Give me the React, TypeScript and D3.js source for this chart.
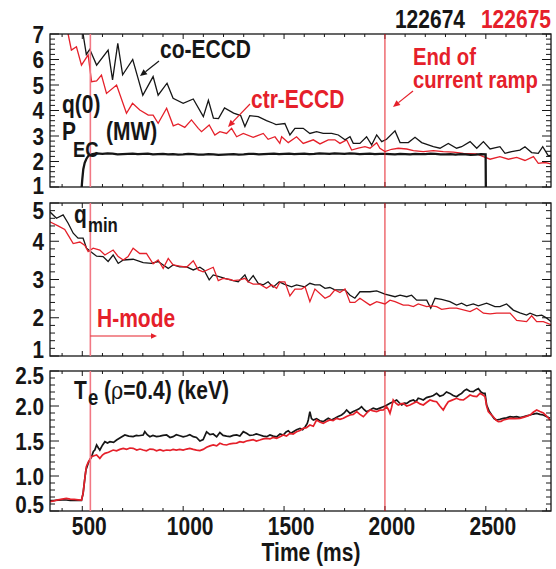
import React from 'react';
import * as d3 from 'd3';

const W = 556;
const H = 569;

// time axis (ms)
const xDomain = [340, 2823];
const xTicks = [500, 1000, 1500, 2000, 2500];
const q0Ticks = [1, 2, 3, 4, 5, 6, 7];
const qminTicks = [1, 2, 3, 4, 5];
const teTicks = [0.5, 1.0, 1.5, 2.0, 2.5];
const shots = ['122674', '122675'];
const hModeTime = 540;
const rampEndTime = 2000;

// q(0), shot 122674 (co-ECCD)
const q0Co: [number, number][] = [
  [480, 8.2], [505, 6.95], [520, 6.2], [537, 6.4], [571, 5.78], [628, 6.37], [650, 5.2], [676, 6.63],
  [700, 5.4], [750, 6.0], [775, 5.3], [800, 4.6], [851, 5.33], [876, 4.6], [920, 5.07], [950, 4.48],
  [1000, 4.28], [1050, 4.45], [1100, 3.76], [1125, 4.4], [1150, 3.7], [1175, 3.68], [1205, 4.1],
  [1250, 3.9], [1285, 3.8], [1306, 3.37], [1330, 3.8], [1372, 3.76], [1413, 3.6], [1446, 3.5],
  [1460, 3.45], [1504, 3.49], [1529, 3.04], [1554, 3.3], [1595, 3.3], [1628, 3.1], [1661, 3.17],
  [1694, 3.1], [1736, 3.1], [1769, 3.04], [1802, 2.85], [1827, 2.97], [1843, 2.71], [1876, 2.71],
  [1909, 2.97], [1934, 2.65], [1959, 3.04], [1984, 2.78], [2008, 2.87], [2050, 3.2], [2075, 2.74],
  [2116, 2.74], [2149, 2.95], [2182, 2.74], [2240, 2.58], [2273, 2.52], [2314, 2.71], [2355, 2.52],
  [2380, 2.58], [2422, 2.78], [2455, 2.52], [2488, 2.78], [2521, 2.49], [2570, 2.58], [2595, 2.32],
  [2628, 2.39], [2669, 2.45], [2694, 2.58], [2727, 2.35], [2760, 2.32], [2782, 2.58], [2810, 2.22],
  [2825, 2.25],
];

// q(0), shot 122675 (ctr-ECCD)
const q0Ctr: [number, number][] = [
  [410, 7.6], [430, 6.99], [446, 6.37], [471, 6.5], [496, 5.78], [529, 6.18], [546, 5.13], [571, 5.16],
  [595, 5.39], [620, 4.67], [670, 5.0], [719, 3.89], [749, 4.28], [785, 4.02], [827, 3.82], [851, 3.82],
  [876, 3.5], [918, 4.09], [951, 3.4], [975, 3.47], [1008, 3.34], [1041, 3.63], [1075, 3.3], [1091, 3.17],
  [1129, 3.43], [1157, 3.04], [1182, 3.17], [1215, 3.1], [1240, 3.3], [1265, 2.97], [1298, 3.1],
  [1347, 2.95], [1397, 3.1], [1421, 2.87], [1455, 2.97], [1479, 2.71], [1488, 2.97], [1521, 2.74],
  [1562, 2.97], [1595, 2.71], [1645, 2.85], [1678, 2.69], [1719, 2.85], [1752, 2.85], [1777, 2.71],
  [1810, 2.85], [1835, 2.45], [1868, 2.52], [1901, 2.58], [1926, 2.52], [1959, 2.74], [1975, 2.52],
  [2000, 2.39], [2033, 2.48], [2066, 2.52], [2108, 2.49], [2141, 2.43], [2190, 2.39], [2240, 2.43],
  [2289, 2.39], [2339, 2.37], [2389, 2.32], [2455, 2.3], [2488, 2.19], [2521, 2.09], [2570, 2.19],
  [2612, 2.09], [2653, 2.16], [2694, 2.04], [2736, 2.19], [2760, 1.93], [2793, 1.96], [2823, 1.91],
];

// EC power (MW), shot 122674
const pec: [number, number][] = [
  [497, 1.0], [500, 1.3], [505, 1.7], [512, 1.95], [520, 2.1], [530, 2.22], [545, 2.28], [570, 2.32],
  [600, 2.3], [625, 2.32], [650, 2.31], [675, 2.28], [700, 2.29], [725, 2.3], [750, 2.31], [775, 2.29],
  [800, 2.3], [825, 2.31], [850, 2.28], [875, 2.29], [900, 2.3], [925, 2.28], [950, 2.29], [975, 2.27],
  [1000, 2.28], [1025, 2.3], [1050, 2.29], [1075, 2.27], [1100, 2.27], [1125, 2.29], [1150, 2.28],
  [1175, 2.26], [1200, 2.27], [1225, 2.28], [1250, 2.29], [1275, 2.27], [1300, 2.28], [1325, 2.3],
  [1350, 2.3], [1375, 2.28], [1400, 2.29], [1425, 2.3], [1450, 2.31], [1475, 2.29], [1500, 2.3],
  [1525, 2.31], [1550, 2.29], [1575, 2.3], [1600, 2.31], [1625, 2.29], [1650, 2.3], [1675, 2.32],
  [1700, 2.31], [1725, 2.3], [1750, 2.32], [1775, 2.31], [1800, 2.3], [1825, 2.32], [1850, 2.31],
  [1875, 2.29], [1900, 2.3], [1925, 2.31], [1950, 2.29], [1975, 2.3], [2000, 2.3], [2025, 2.29],
  [2050, 2.28], [2075, 2.3], [2100, 2.29], [2125, 2.28], [2150, 2.3], [2175, 2.29], [2200, 2.29],
  [2225, 2.31], [2250, 2.3], [2275, 2.28], [2300, 2.28], [2325, 2.29], [2350, 2.27], [2375, 2.29],
  [2400, 2.28], [2425, 2.26], [2450, 2.27], [2475, 2.29], [2499, 2.28], [2500, 1.0],
];

// q_min
const qminCo: [number, number][] = [
  [339, 4.77], [372, 4.6], [405, 4.69], [430, 4.47], [455, 4.21], [479, 4.08], [504, 4.08], [521, 3.82],
  [541, 3.73], [571, 3.61], [603, 3.6], [628, 3.47], [653, 3.64], [678, 3.42], [703, 3.51], [752, 3.53],
  [802, 3.44], [843, 3.42], [876, 3.47], [901, 3.38], [926, 3.29], [950, 3.38], [983, 3.33], [1017, 3.33],
  [1050, 3.25], [1083, 3.32], [1103, 3.25], [1129, 2.99], [1149, 3.12], [1182, 3.07], [1207, 3.03],
  [1248, 2.97], [1273, 2.94], [1306, 3.12], [1322, 2.94], [1347, 3.1], [1372, 2.9], [1397, 2.86],
  [1421, 2.94], [1446, 2.8], [1476, 2.94], [1500, 2.88], [1537, 2.81], [1562, 2.86], [1603, 2.81],
  [1628, 2.9], [1653, 2.86], [1678, 2.86], [1703, 2.77], [1727, 2.79], [1752, 2.73], [1802, 2.73],
  [1827, 2.59], [1851, 2.51], [1876, 2.68], [1926, 2.68], [1959, 2.7], [2000, 2.62], [2050, 2.55],
  [2075, 2.59], [2108, 2.55], [2132, 2.59], [2157, 2.46], [2207, 2.46], [2227, 2.25], [2248, 2.51],
  [2281, 2.48], [2322, 2.42], [2355, 2.33], [2380, 2.38], [2405, 2.31], [2438, 2.36], [2463, 2.31],
  [2504, 2.38], [2545, 2.29], [2570, 2.29], [2603, 2.36], [2636, 2.2], [2669, 2.13], [2702, 2.07],
  [2719, 2.12], [2752, 2.05], [2777, 2.07], [2802, 1.99], [2823, 1.9],
];

const qminCtr: [number, number][] = [
  [339, 4.51], [380, 4.4], [413, 4.31], [430, 4.16], [455, 3.94], [488, 3.98], [513, 3.89], [529, 3.73],
  [554, 3.82], [587, 3.77], [612, 3.64], [653, 3.77], [678, 3.6], [703, 3.51], [727, 3.6], [752, 3.82],
  [785, 3.68], [818, 3.68], [851, 3.41], [876, 3.51], [901, 3.29], [926, 3.55], [950, 3.38], [983, 3.35],
  [1017, 3.32], [1050, 3.49], [1075, 3.25], [1099, 3.2], [1149, 3.32], [1174, 2.97], [1198, 3.03],
  [1232, 3.0], [1248, 2.97], [1281, 2.99], [1306, 3.03], [1322, 2.94], [1347, 2.88], [1380, 2.88],
  [1413, 2.77], [1438, 2.86], [1463, 2.77], [1480, 2.94], [1504, 2.94], [1529, 2.57], [1554, 2.75],
  [1587, 2.75], [1604, 2.81], [1628, 2.42], [1653, 2.75], [1703, 2.51], [1727, 2.57], [1752, 2.73],
  [1777, 2.66], [1802, 2.75], [1827, 2.4], [1851, 2.4], [1876, 2.51], [1926, 2.33], [1959, 2.42],
  [2000, 2.36], [2025, 2.46], [2050, 2.42], [2091, 2.33], [2116, 2.33], [2141, 2.29], [2165, 2.36],
  [2207, 2.29], [2232, 2.31], [2256, 2.29], [2281, 2.22], [2322, 2.25], [2355, 2.25], [2422, 2.16],
  [2455, 2.25], [2488, 2.12], [2521, 2.1], [2554, 2.12], [2620, 2.12], [2653, 1.93], [2702, 1.9],
  [2727, 2.05], [2752, 1.9], [2785, 1.9], [2823, 1.82],
];

// Te(rho=0.4) keV
const teCo: [number, number][] = [
  [339, 0.647], [360, 0.65], [380, 0.655], [400, 0.66], [421, 0.657], [440, 0.65], [460, 0.655],
  [480, 0.65], [496, 0.652], [504, 0.75], [512, 0.95], [518, 1.086], [529, 1.18], [546, 1.276],
  [555, 1.35], [562, 1.371], [571, 1.443], [580, 1.4], [587, 1.371], [600, 1.44], [612, 1.49],
  [625, 1.47], [637, 1.49], [655, 1.48], [670, 1.514], [690, 1.55], [711, 1.586], [730, 1.57],
  [752, 1.562], [768, 1.58], [780, 1.575], [802, 1.586], [810, 1.633], [822, 1.59], [835, 1.562],
  [850, 1.58], [868, 1.562], [884, 1.57], [900, 1.58], [918, 1.586], [935, 1.55], [950, 1.562],
  [966, 1.59], [983, 1.575], [1000, 1.56], [1017, 1.571], [1033, 1.59], [1050, 1.562], [1066, 1.55],
  [1083, 1.5], [1099, 1.52], [1116, 1.63], [1133, 1.59], [1149, 1.6], [1166, 1.56], [1182, 1.62],
  [1198, 1.58], [1215, 1.57], [1232, 1.562], [1248, 1.58], [1265, 1.586], [1281, 1.57], [1298, 1.633],
  [1314, 1.61], [1330, 1.58], [1347, 1.586], [1363, 1.6], [1380, 1.586], [1397, 1.57], [1414, 1.562],
  [1430, 1.586], [1446, 1.57], [1463, 1.56], [1480, 1.6], [1496, 1.586], [1510, 1.63], [1521, 1.647],
  [1534, 1.61], [1546, 1.633], [1562, 1.66], [1579, 1.68], [1592, 1.66], [1604, 1.7], [1615, 1.75],
  [1620, 1.8], [1628, 1.92], [1636, 1.82], [1645, 1.8], [1661, 1.82], [1677, 1.79], [1694, 1.776],
  [1706, 1.8], [1719, 1.824], [1735, 1.8], [1752, 1.824], [1768, 1.85], [1785, 1.871], [1798, 1.9],
  [1810, 1.943], [1827, 1.895], [1843, 1.92], [1860, 1.943], [1872, 1.96], [1884, 1.99], [1896, 1.95],
  [1909, 1.919], [1926, 1.943], [1942, 1.97], [1959, 1.952], [1975, 1.97], [1992, 1.99], [2008, 2.01],
  [2025, 2.038], [2041, 2.06], [2058, 2.086], [2070, 2.05], [2083, 2.014], [2096, 2.04], [2108, 2.038],
  [2124, 2.07], [2141, 2.086], [2153, 2.06], [2165, 2.11], [2178, 2.1], [2190, 2.086], [2206, 2.12],
  [2223, 2.133], [2240, 2.15], [2256, 2.18], [2272, 2.14], [2289, 2.157], [2305, 2.2], [2322, 2.18],
  [2338, 2.15], [2355, 2.133], [2368, 2.16], [2380, 2.18], [2393, 2.22], [2405, 2.24], [2420, 2.21],
  [2438, 2.205], [2450, 2.23], [2463, 2.25], [2476, 2.2], [2488, 2.18], [2496, 2.18], [2504, 2.014],
  [2516, 1.93], [2529, 1.871], [2541, 1.82], [2554, 1.8], [2570, 1.81], [2587, 1.824], [2603, 1.83],
  [2620, 1.847], [2636, 1.84], [2653, 1.847], [2670, 1.835], [2686, 1.847], [2702, 1.86], [2719, 1.871],
  [2735, 1.885], [2752, 1.895], [2768, 1.88], [2785, 1.871], [2800, 1.85], [2818, 1.824],
];

const teCtr: [number, number][] = [
  [339, 0.633], [360, 0.645], [380, 0.66], [400, 0.67], [421, 0.681], [440, 0.67], [460, 0.665],
  [480, 0.66], [496, 0.657], [504, 0.752], [512, 0.95], [520, 1.133], [530, 1.2], [546, 1.276],
  [558, 1.29], [571, 1.3], [587, 1.252], [600, 1.3], [612, 1.324], [630, 1.34], [653, 1.371],
  [670, 1.36], [686, 1.38], [703, 1.395], [720, 1.38], [736, 1.4], [752, 1.395], [770, 1.37],
  [786, 1.385], [802, 1.371], [818, 1.36], [835, 1.385], [851, 1.381], [868, 1.36], [885, 1.375],
  [901, 1.36], [918, 1.371], [935, 1.365], [950, 1.38], [966, 1.37], [983, 1.381], [1000, 1.37],
  [1017, 1.385], [1033, 1.395], [1050, 1.38], [1066, 1.37], [1083, 1.362], [1099, 1.38], [1116, 1.41],
  [1133, 1.43], [1149, 1.443], [1166, 1.43], [1182, 1.467], [1198, 1.45], [1215, 1.443], [1232, 1.46],
  [1248, 1.467], [1265, 1.47], [1281, 1.49], [1298, 1.48], [1314, 1.5], [1330, 1.51], [1347, 1.52],
  [1363, 1.5], [1380, 1.514], [1397, 1.53], [1414, 1.538], [1430, 1.53], [1446, 1.552], [1463, 1.538],
  [1480, 1.56], [1496, 1.586], [1512, 1.57], [1529, 1.61], [1545, 1.6], [1562, 1.633], [1579, 1.65],
  [1595, 1.68], [1611, 1.69], [1628, 1.729], [1645, 1.71], [1661, 1.8], [1677, 1.77], [1694, 1.752],
  [1710, 1.78], [1727, 1.8], [1743, 1.79], [1760, 1.824], [1777, 1.81], [1794, 1.824], [1810, 1.85],
  [1827, 1.871], [1843, 1.88], [1860, 1.919], [1876, 1.88], [1893, 1.847], [1910, 1.9], [1926, 1.943],
  [1942, 1.93], [1959, 1.919], [1975, 1.94], [1992, 1.943], [2008, 1.99], [2017, 1.95], [2025, 1.895],
  [2033, 1.98], [2041, 2.086], [2054, 2.04], [2066, 2.014], [2078, 2.03], [2091, 2.038], [2108, 2.0],
  [2124, 2.014], [2141, 2.04], [2157, 2.061], [2174, 2.03], [2190, 2.014], [2206, 2.05], [2223, 2.086],
  [2240, 2.07], [2256, 2.061], [2272, 2.0], [2289, 1.943], [2300, 2.0], [2314, 2.061], [2330, 2.08],
  [2355, 2.11], [2372, 2.09], [2389, 2.086], [2405, 2.12], [2422, 2.157], [2438, 2.14], [2455, 2.133],
  [2471, 2.18], [2484, 2.16], [2496, 2.133], [2504, 2.0], [2512, 1.919], [2525, 1.88], [2537, 1.847],
  [2550, 1.8], [2562, 1.776], [2575, 1.78], [2587, 1.8], [2603, 1.81], [2620, 1.824], [2645, 1.82],
  [2669, 1.824], [2694, 1.845], [2719, 1.871], [2735, 1.91], [2752, 1.943], [2768, 1.92], [2785, 1.9],
  [2800, 1.86], [2818, 1.8],
];

const BLACK = '#161616';
const RED = '#e5202a';
const PINK = '#f27884';
const FONT = "'Liberation Sans', Arial, Helvetica, sans-serif";

const left = 50;
const right = 551;

const x = d3.scaleLinear().domain(xDomain).range([left, right]);

const panels = [
  { id: 'q0', top: 34, bottom: 187, domain: [1, 7], ticks: q0Ticks, minor: 0.2, fmt: (d: number) => String(d), padT: 0, padB: 2 },
  { id: 'qmin', top: 203, bottom: 356, domain: [1, 5], ticks: qminTicks, minor: 0.2, fmt: (d: number) => String(d), padT: 7, padB: 7 },
  { id: 'te', top: 371, bottom: 511, domain: [0.5, 2.5], ticks: teTicks, minor: 0.1, fmt: d3.format('.1f'), padT: 4, padB: 7 },
];

const Txt = ({ x, y, fill = BLACK, size = 25, sx = 0.84, anchor = 'start', children }: any) => (
  <text
    transform={`translate(${x},${y}) scale(${sx},1)`}
    textAnchor={anchor}
    fontSize={size}
    fontWeight="bold"
    fontFamily={FONT}
    fill={fill}
  >
    {children}
  </text>
);

const Panel = ({ p, children }: any) => {
  const y = d3.scaleLinear().domain(p.domain).range([p.bottom, p.top]);
  const xMinor = d3.range(400, xDomain[1], 100);
  const yMinor = d3.range(p.domain[0], p.domain[1] + 1e-6, p.minor);
  return (
    <g>
      <defs>
        <clipPath id={`clip-${p.id}`}>
          <rect x={left} y={p.top} width={right - left} height={p.bottom - p.top} />
        </clipPath>
      </defs>
      <g clipPath={`url(#clip-${p.id})`}>{children(y)}</g>
      <rect x={left} y={p.top} width={right - left} height={p.bottom - p.top} fill="none" stroke={BLACK} strokeWidth={1.3} />
      {xMinor.map((t) => {
        const len = t % 500 === 0 ? 5 : 3;
        return (
          <g key={`xt${t}`} stroke={BLACK} strokeWidth={1}>
            <line x1={x(t)} x2={x(t)} y1={p.bottom} y2={p.bottom - len} />
            <line x1={x(t)} x2={x(t)} y1={p.top} y2={p.top + len} />
          </g>
        );
      })}
      {yMinor.map((v, i) => {
        const major = p.ticks.some((t: number) => Math.abs(t - v) < 1e-6);
        const len = major ? 9 : 5;
        return (
          <g key={`yt${i}`} stroke={BLACK} strokeWidth={1}>
            <line x1={left} x2={left + len} y1={y(v)} y2={y(v)} />
            <line x1={right} x2={right - len} y1={y(v)} y2={y(v)} />
          </g>
        );
      })}
      {p.ticks.map((v: number) => {
        const cy = Math.min(Math.max(y(v), p.top + p.padT), p.bottom - p.padB);
        return (
          <Txt key={`yl${v}`} x={44} y={cy + 8.5} size={23} sx={0.9} anchor="end">
            {p.fmt(v)}
          </Txt>
        );
      })}
    </g>
  );
};

const Arrow = ({ x1, y1, x2, y2, color, size = 7 }: any) => {
  const a = Math.atan2(y2 - y1, x2 - x1);
  const w = size * 0.45;
  const bx = x2 - size * Math.cos(a);
  const by = y2 - size * Math.sin(a);
  const px = -Math.sin(a) * w;
  const py = Math.cos(a) * w;
  return (
    <g>
      <line x1={x1} y1={y1} x2={bx} y2={by} stroke={color} strokeWidth={1.2} />
      <path d={`M${x2},${y2}L${bx + px},${by + py}L${bx - px},${by - py}Z`} fill={color} />
    </g>
  );
};

export default function App() {
  const mk = (y: any) =>
    d3
      .line<[number, number]>()
      .x((d) => x(d[0]))
      .y((d) => y(d[1]));

  return (
    <svg
      width={W}
      height={H}
      viewBox={`0 0 ${W} ${H}`}
      style={{ position: 'absolute', left: 0, top: 0, background: '#fff' }}
    >
      <rect width={W} height={H} fill="#fff" />

      <Panel p={panels[0]}>
        {(y: any) => (
          <g fill="none">
            <path d={mk(y)(q0Ctr) || ''} stroke={RED} strokeWidth={1.3} />
            <path d={mk(y)(q0Co) || ''} stroke={BLACK} strokeWidth={1.3} />
            <path d={mk(y)(pec) || ''} stroke={BLACK} strokeWidth={2.3} />
          </g>
        )}
      </Panel>
      <Panel p={panels[1]}>
        {(y: any) => (
          <g fill="none">
            <path d={mk(y)(qminCo) || ''} stroke={BLACK} strokeWidth={1.3} />
            <path d={mk(y)(qminCtr) || ''} stroke={RED} strokeWidth={1.3} />
          </g>
        )}
      </Panel>
      <Panel p={panels[2]}>
        {(y: any) => (
          <g fill="none">
            <path d={mk(y)(teCo) || ''} stroke={BLACK} strokeWidth={1.7} />
            <path d={mk(y)(teCtr) || ''} stroke={RED} strokeWidth={1.7} />
          </g>
        )}
      </Panel>

      {/* event markers */}
      {panels.map((p) => (
        <g key={`v${p.id}`}>
          <line x1={x(hModeTime)} x2={x(hModeTime)} y1={p.top} y2={p.bottom} stroke={PINK} strokeWidth={1.6} />
          <line x1={x(rampEndTime)} x2={x(rampEndTime)} y1={p.top} y2={p.bottom} stroke={RED} strokeWidth={1} />
        </g>
      ))}

      {/* x tick labels */}
      {xTicks.map((t) => (
        <Txt key={`xl${t}`} x={x(t) + 7} y={535} anchor="middle">
          {t}
        </Txt>
      ))}
      <Txt x={311} y={561} anchor="middle">
        Time (ms)
      </Txt>

      {/* shot numbers */}
      <Txt x={465} y={28} anchor="end">
        {shots[0]}
      </Txt>
      <Txt x={551} y={28} anchor="end" fill={RED}>
        {shots[1]}
      </Txt>

      {/* top panel annotations */}
      <Txt x={160} y={58}>co-ECCD</Txt>
      <Arrow x1={159} y1={61} x2={140} y2={76} color={BLACK} />
      <Txt x={251} y={108} fill={RED}>ctr-ECCD</Txt>
      <Arrow x1={250} y1={104} x2={228} y2={127} color={RED} />
      <Txt x={413} y={65} size={23} sx={0.88} fill={RED}>End of</Txt>
      <Txt x={413} y={88} size={23} sx={0.88} fill={RED}>current ramp</Txt>
      <Arrow x1={413} y1={91} x2={393} y2={107} color={RED} />
      <Txt x={62} y={113}>q(0)</Txt>
      <Txt x={62} y={140}>P</Txt>
      <Txt x={73} y={157} size={22}>EC</Txt>
      <Txt x={106} y={140}>(MW)</Txt>

      {/* middle panel */}
      <Txt x={74} y={223}>q</Txt>
      <Txt x={88} y={232} size={20}>min</Txt>
      <Txt x={97} y={327} fill={RED}>H-mode</Txt>
      <Arrow x1={x(hModeTime)} y1={336} x2={157} y2={336} color={RED} size={6} />

      {/* bottom panel */}
      <Txt x={74} y={399}>T</Txt>
      <Txt x={88} y={405} size={22}>e</Txt>
      <Txt x={104} y={399}>
        (<tspan fontFamily="'DejaVu Serif', serif" fontWeight="normal">ρ</tspan>=0.4) (keV)
      </Txt>
    </svg>
  );
}
